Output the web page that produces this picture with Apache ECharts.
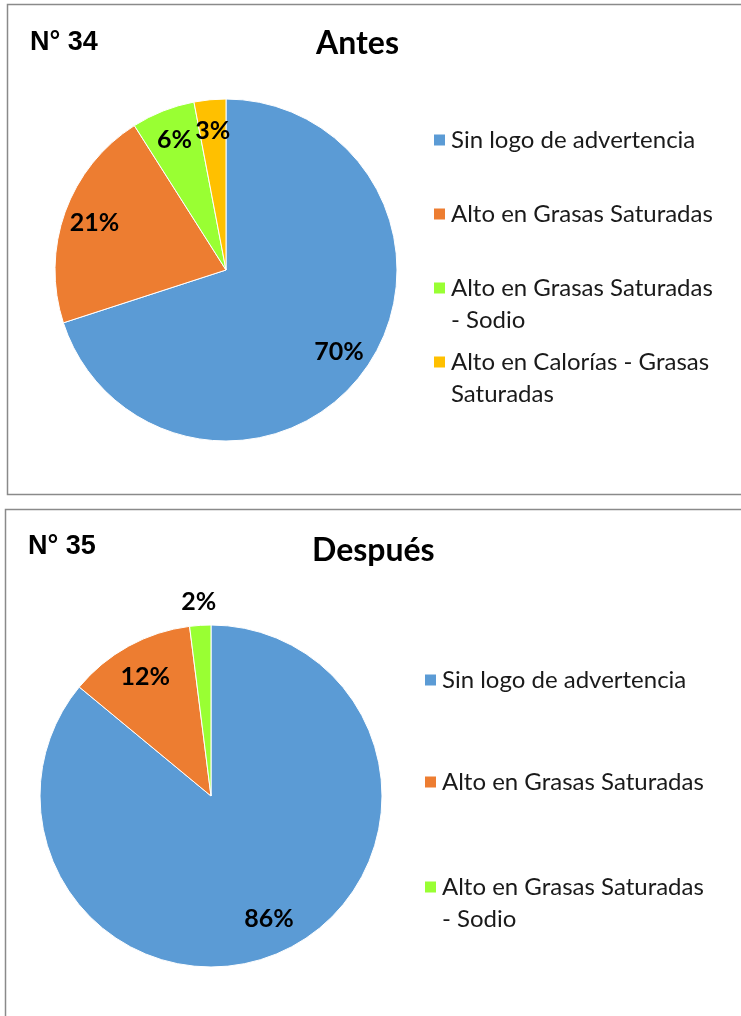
<!DOCTYPE html>
<html>
<head>
<meta charset="utf-8">
<script src="https://cdn.jsdelivr.net/npm/echarts@6/dist/echarts.min.js"></script>
<style>
html,body{margin:0;padding:0;background:#fff;}
#chart{width:741px;height:1016px;}
</style>
</head>
<body>
<div id="chart"></div>
<script>
// ---- data ----
const antesCategories = [
  'Sin logo de advertencia',
  'Alto en Grasas Saturadas',
  'Alto en Grasas Saturadas - Sodio',
  'Alto en Calorías - Grasas Saturadas'
];
const antesValues = [70, 21, 6, 3];
const despuesCategories = [
  'Sin logo de advertencia',
  'Alto en Grasas Saturadas',
  'Alto en Grasas Saturadas - Sodio'
];
const despuesValues = [86, 12, 2];
const antesTitle = 'Antes';
const despuesTitle = 'Después';
const antesNumber = 'N° 34';
const despuesNumber = 'N° 35';
const legendWrapped = {
  'Alto en Grasas Saturadas - Sodio': ['Alto en Grasas Saturadas', '- Sodio'],
  'Alto en Calorías - Grasas Saturadas': ['Alto en Calorías - Grasas', 'Saturadas']
};

// ---- styles ----
const palette = ['#5B9BD5', '#ED7D31', '#99FF33', '#FFC000'];
const R = 171;
const labelFont = 'Lato, "Open Sans", sans-serif';
const outsideThreshold = 2; // slices this small get their label outside
const LH = 32;

const chart = echarts.init(document.getElementById('chart'), null, {renderer: 'canvas'});

function mainPie(center, cats, vals) {
  return {
    type: 'pie',
    center: center,
    radius: [0, R],
    startAngle: 90,
    clockwise: true,
    animation: false,
    label: {show: false},
    labelLine: {show: false},
    emphasis: {disabled: true},
    itemStyle: {borderColor: '#ffffff', borderWidth: 1},
    data: cats.map((c, i) => ({name: c, value: vals[i], itemStyle: {color: palette[i]}}))
  };
}
function labelRing(center, vals, radius, showFn) {
  return {
    type: 'pie',
    center: center,
    radius: radius,
    startAngle: 90,
    clockwise: true,
    animation: false,
    silent: true,
    emphasis: {disabled: true},
    labelLine: {show: false},
    itemStyle: {color: 'transparent', borderWidth: 0},
    label: {
      show: true,
      position: 'inside',
      formatter: '{c}%',
      color: '#000',
      fontFamily: labelFont,
      fontWeight: 'bold',
      fontSize: 25
    },
    data: vals.map(v => ({value: v, label: {show: showFn(v)}}))
  };
}

function legendItem(name, left, centerY) {
  const lines = legendWrapped[name];
  // two-line entries get an empty leading line so the first text line sits beside the marker
  const text = lines ? '\n' + lines.join('\n') : name;
  return {
    data: [name],
    orient: 'vertical',
    left: left,
    top: centerY - (lines ? LH * 1.5 : LH / 2),
    padding: 0,
    itemWidth: 13,
    itemHeight: 13,
    icon: 'rect',
    selectedMode: false,
    formatter: () => text,
    textStyle: {
      fontFamily: labelFont,
      fontSize: 24,
      color: '#1a1a1a',
      lineHeight: LH
    }
  };
}

const topC = [226, 270];
const botC = [211, 796];

const antesLegendY = [140, 214, 288, 362];
const despuesLegendY = [680, 782, 887];

const legends = [];
antesCategories.forEach((c, i) => legends.push(legendItem(c, 432, antesLegendY[i])));
despuesCategories.forEach((c, i) => legends.push(legendItem(c, 423, despuesLegendY[i])));

const numStyle = {fontFamily: '"Liberation Sans", Arial, sans-serif', fontWeight: 'bold', fontSize: 27, color: '#000'};
const headStyle = {fontFamily: labelFont, fontWeight: 'bold', fontSize: 32, color: '#000'};

chart.setOption({
  backgroundColor: '#ffffff',
  animation: false,
  title: [
    {text: antesNumber, left: 30, top: 29, padding: 0, textStyle: numStyle},
    {text: antesTitle, left: 316, top: 28, padding: 0, textStyle: headStyle},
    {text: despuesNumber, left: 28, top: 533, padding: 0, textStyle: numStyle},
    {text: despuesTitle, left: 312, top: 535, padding: 0, textStyle: headStyle}
  ],
  legend: legends,
  graphic: [
    {type: 'rect', shape: {x: 7.5, y: 4.5, width: 745, height: 490}, style: {fill: 'none', stroke: '#8a8a8a', lineWidth: 1.5}, silent: true, z: -1},
    {type: 'rect', shape: {x: 5.5, y: 509.5, width: 745, height: 520}, style: {fill: 'none', stroke: '#8a8a8a', lineWidth: 1.5}, silent: true, z: -1}
  ],
  series: [
    mainPie(topC, antesCategories, antesValues),
    mainPie(botC, despuesCategories, despuesValues),
    labelRing(topC, antesValues, [R * 0.6, R], v => v > outsideThreshold),
    labelRing(botC, despuesValues, [R * 0.56, R], v => v > outsideThreshold),
    labelRing(botC, despuesValues, [R + 8, R + 32], v => v <= outsideThreshold)
  ]
});
</script>
</body>
</html>
